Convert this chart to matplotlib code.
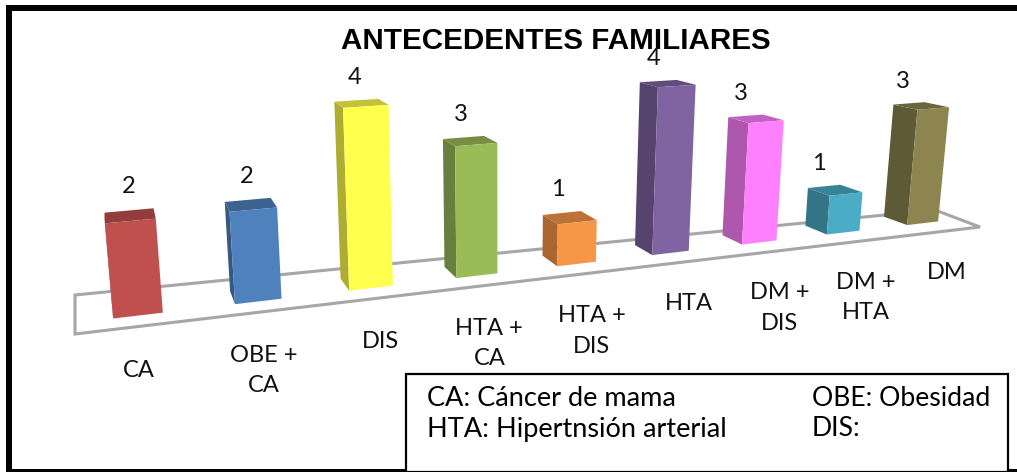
import numpy as np
import matplotlib
matplotlib.use("Agg")
import matplotlib.pyplot as plt
from matplotlib.patches import Polygon, Rectangle
from matplotlib.colors import to_rgb

categories = ["CA", "OBE +\nCA", "DIS", "HTA +\nCA", "HTA +\nDIS", "HTA", "DM +\nDIS", "DM +\nHTA", "DM"]
values = [2, 2, 4, 3, 1, 4, 3, 1, 3]
colors = ["#C0504D", "#4F81BD", "#FFFF4D", "#9BBB59", "#F79646", "#8064A2", "#FF80FF", "#4BACC6", "#8C8550"]
title = "ANTECEDENTES FAMILIARES"
legend_left = ["CA: Cáncer de mama", "HTA: Hipertnsión arterial"]
legend_right = ["OBE: Obesidad", "DIS:"]

plt.rcParams["font.family"] = ["Lato", "DejaVu Sans"]
fig = plt.figure(figsize=(10.17, 4.72), dpi=100)
ax = fig.add_axes([0, 0, 1, 1])
ax.set_xlim(0, 1017); ax.set_ylim(472, 0); ax.axis("off")

def fit_h(pairs):
    A = []; b = []
    for (u, v), (X, Y) in pairs:
        A.append([u, v, 1, 0, 0, 0, -u * X, -v * X]); b.append(X)
        A.append([0, 0, 0, u, v, 1, -u * Y, -v * Y]); b.append(Y)
    h = np.linalg.lstsq(np.array(A, float), np.array(b, float), rcond=None)[0]
    return np.array([[h[0], h[1], h[2]], [h[3], h[4], h[5]], [h[6], h[7], 1.0]])

n = len(values)
# camera calibration (category position, depth) -> picture position
H_bar = fit_h([((0.3, 0), (113, 317)), ((0.7, 0), (162, 312)), ((1.3, 0), (235, 303)), ((1.7, 0), (282, 298)),
               ((7.3, 0), (827, 235)), ((7.7, 0), (860, 232)), ((8.3, 0), (907, 226)), ((8.7, 0), (938, 222)),
               ((0.3, 1), (113, 307)), ((1.3, 1), (230, 293)), ((7.3, 1), (805, 223)), ((8.3, 1), (884, 216))])
H_floor = fit_h([((0, 0), (75, 334)), ((n, 0), (980, 227)), ((n, 1), (935, 210)), ((0, 1), (75, 295))])
VP = np.array([500.0, 4800.0, 1.0])
w0 = (H_bar @ np.array([0.3, 0, 1.0]))[2]
ALPHA = -0.0104 * w0

def project(x, y, z):
    p = H_bar @ np.array([x, y, 1.0]) + ALPHA * z * VP
    return p[0] / p[2], p[1] / p[2]

def floor_pt(x, y):
    p = H_floor @ np.array([x, y, 1.0])
    return p[0] / p[2], p[1] / p[2]

def shade(c, k):
    return tuple(k * t for t in to_rgb(c))

ax.add_patch(Polygon([floor_pt(u, v) for u, v in [(0, 0), (n, 0), (n, 1), (0, 1)]], closed=True, fill=False, edgecolor="#A6A6A6", linewidth=2.2, zorder=1))

BW = 0.2
for i, (v, c) in enumerate(zip(values, colors)):
    x0, x1 = i + 0.5 - BW, i + 0.5 + BW
    left = [project(x0, 0, 0), project(x0, 1, 0), project(x0, 1, v), project(x0, 0, v)]
    top = [project(x0, 0, v), project(x1, 0, v), project(x1, 1, v), project(x0, 1, v)]
    front = [project(x0, 0, 0), project(x1, 0, 0), project(x1, 0, v), project(x0, 0, v)]
    z = 2 + (n - i) * 0.01
    ax.add_patch(Polygon(left, closed=True, facecolor=shade(c, 0.68), edgecolor="none", zorder=z))
    ax.add_patch(Polygon(top, closed=True, facecolor=shade(c, 0.76), edgecolor="none", zorder=z))
    ax.add_patch(Polygon(front, closed=True, facecolor=c, edgecolor="none", zorder=z))
    px, py = project(i + 0.5, 1.25, v)
    ax.text(px, py - 21, str(v), ha="center", va="center", fontsize=17, color="#111111", zorder=10)
    qx, qy = project(i + 0.5, -1, 0)
    ax.text(qx - 1, qy + 30, categories[i], ha="center", va="top", fontsize=17, color="#111111", linespacing=1.55, zorder=3)

# outer frame: top, left and bottom-left strokes only
ax.add_patch(Rectangle((6, 5), 1011, 6, facecolor="black", edgecolor="none", zorder=8))
ax.add_patch(Rectangle((6, 5), 6, 467, facecolor="black", edgecolor="none", zorder=8))
ax.add_patch(Rectangle((6, 469), 400, 3, facecolor="black", edgecolor="none", zorder=8))
ax.add_patch(Rectangle((1008, 469), 9, 3, facecolor="black", edgecolor="none", zorder=8))
ax.text(556, 41, title, ha="center", va="center", fontsize=21.3, fontweight="bold", family="Liberation Sans", zorder=9)
ax.add_patch(Rectangle((406, 374), 601.5, 97.5, facecolor="white", edgecolor="black", linewidth=1.6, zorder=7))
for k, (a, c) in enumerate(zip(legend_left, legend_right)):
    yy = 398 + 31 * k
    ax.text(427, yy, a, ha="left", va="center", fontsize=19.5, zorder=9)
    ax.text(812, yy, c, ha="left", va="center", fontsize=19.2, zorder=9)
fig.savefig("out.png", dpi=100)
